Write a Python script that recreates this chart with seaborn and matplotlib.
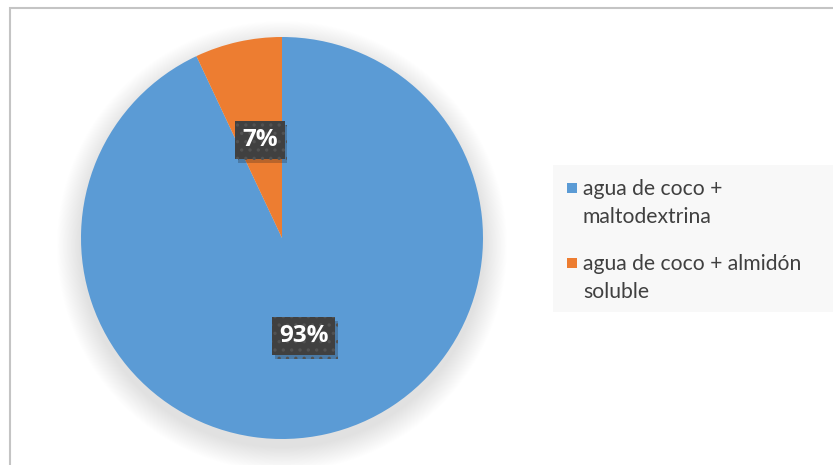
import matplotlib
matplotlib.use("Agg")
import matplotlib.pyplot as plt
import matplotlib.patheffects as pe
from matplotlib.patches import Circle, Rectangle
import seaborn as sns

# Series data
categories = ["agua de coco +\nmaltodextrina", "agua de coco + almidón\nsoluble"]
shares = [93, 7]
colors = ["#5B9BD5", "#ED7D31"]

sns.set_theme(style="white")
plt.rcParams["font.family"] = ["Lato", "DejaVu Sans"]
plt.rcParams["hatch.linewidth"] = 1.2

W, H = 833, 465
fig = plt.figure(figsize=(W / 100, H / 100), dpi=100)
fig.patch.set_facecolor("white")

# Pie axes: centre at (282, 238) px, radius 201 px
cx, cy, r_px = 282, 238, 201
lim = 1.2
side = r_px * lim * 2
ax = fig.add_axes([(cx - side / 2) / W, (H - cy - side / 2) / H, side / W, side / H])
ax.set_xlim(-lim, lim)
ax.set_ylim(-lim, lim)
ax.set_aspect("equal")
ax.axis("off")

# soft drop shadow behind the pie
n = 30
for i in range(n):
    rr = 1.0 + 0.12 * (i + 1) / n
    ax.add_patch(Circle((0, -0.04), rr, facecolor="black", edgecolor="none",
                        alpha=0.0038, zorder=0, clip_on=False))

wedges, texts, autotexts = ax.pie(
    shares, colors=colors, startangle=90, counterclock=False,
    autopct=lambda p: f"{p:.0f}%", pctdistance=0.5,
    wedgeprops=dict(linewidth=0), radius=1.0,
    textprops=dict(color="white", fontsize=17.5, fontweight="bold",
                   family=["Open Sans", "DejaVu Sans"]),
)
for w in wedges:
    w.set_zorder(2)

for t in autotexts:
    t.set_zorder(5)
    t.set_bbox(dict(boxstyle="square,pad=0.28", facecolor="#404040",
                    edgecolor="#525252", linewidth=0, hatch=".."))
    t.get_bbox_patch().set_path_effects([
        pe.SimplePatchShadow(offset=(2, -3), shadow_rgbFace="#1a1a1a", alpha=0.25),
        pe.Normal(),
    ])

ax.set_xlim(-lim, lim)
ax.set_ylim(-lim, lim)

# chart frame (top and left edges visible)
fig.patches.append(Rectangle((10 / W, -0.1), 1.2, (H - 8) / H + 0.1,
                             transform=fig.transFigure, fill=False,
                             edgecolor="#C4C4C4", linewidth=1.5))

# legend panel
lx0, ly0, lx1, ly1 = 553, 165, 833, 312
fig.patches.append(Rectangle((lx0 / W, 1 - ly1 / H), (lx1 - lx0) / W, (ly1 - ly0) / H,
                             transform=fig.transFigure, facecolor="#F8F8F8",
                             edgecolor="none", zorder=0))
entry_baselines = [195, 270]
for label, col, base in zip(categories, colors, entry_baselines):
    fig.patches.append(Rectangle((567 / W, 1 - (base - 2) / H), 10 / W, 10 / H,
                                 transform=fig.transFigure, facecolor=col,
                                 edgecolor="none", zorder=3))
    for j, line in enumerate(label.split("\n")):
        fig.text(583 / W, 1 - (base + 28 * j) / H, line, fontsize=15.2,
                 color="#404040", va="baseline", ha="left")

fig.savefig("out.png", dpi=100)
